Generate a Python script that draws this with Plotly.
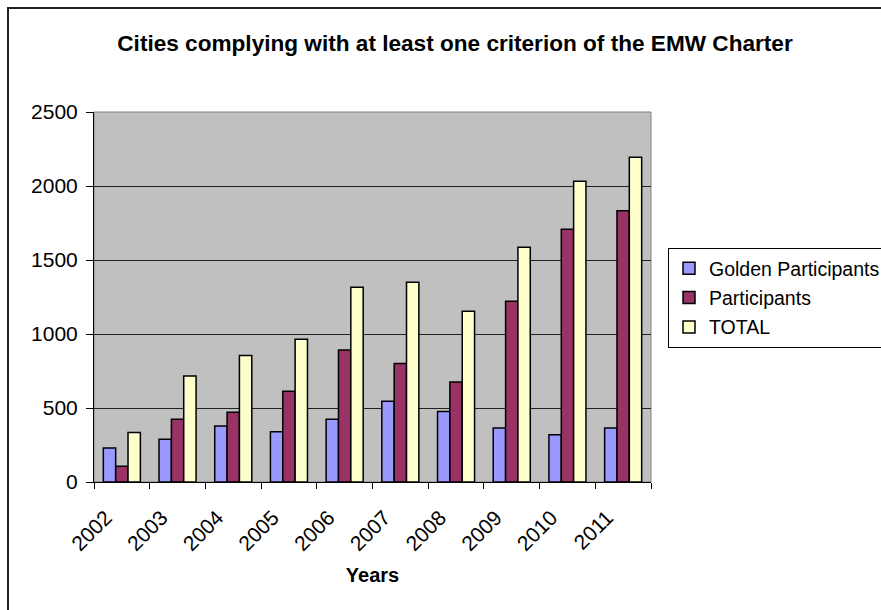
import plotly.graph_objects as go

years = ["2002", "2003", "2004", "2005", "2006", "2007", "2008", "2009", "2010", "2011"]
golden = [230, 289, 379, 340, 424, 545, 476, 365, 320, 365]
participants = [106, 424, 471, 613, 892, 800, 676, 1221, 1708, 1832]
total = [334, 717, 854, 965, 1316, 1350, 1154, 1586, 2032, 2195]

series = [
    ("Golden Participants", golden, "#9999FF"),
    ("Participants", participants, "#993366"),
    ("TOTAL", total, "#FFFFCC"),
]

FONT = "Liberation Sans, Arial, sans-serif"
W, H = 881, 610
L, R, T, B = 94, 651, 112, 482
pw, ph = R - L, B - T

def px_x(x):
    return (x - L) / pw

def px_y(y):
    return (B - y) / ph

fig = go.Figure()
for i, (name, vals, col) in enumerate(series):
    fig.add_trace(go.Bar(
        x=years, y=vals, name=name,
        marker=dict(color=col, line=dict(color="black", width=1.5)),
        legendgroup=f"g{i}",
    ))

fig.update_layout(
    width=W, height=H,
    margin=dict(l=L, r=W - R, t=T, b=H - B, pad=0, autoexpand=False),
    paper_bgcolor="white",
    plot_bgcolor="#C0C0C0",
    barmode="group",
    bargap=0.335,
    bargroupgap=0,
    font=dict(family=FONT, size=20, color="black"),
    title=dict(
        text="<b>Cities complying with at least one criterion of the EMW Charter</b>",
        x=455 / W, xref="container", xanchor="center",
        y=1 - 43 / H, yref="container", yanchor="middle",
        font=dict(family=FONT, size=22.6, color="black"),
    ),
    legend=dict(
        x=px_x(668), y=px_y(248), xanchor="left", yanchor="top",
        bgcolor="white", bordercolor="black", borderwidth=1,
        font=dict(family=FONT, size=19.5, color="black"),
        traceorder="grouped", tracegroupgap=1,
    ),
    xaxis=dict(
        type="category",
        tickangle=-45,
        ticks="outside", ticklen=6, tickcolor="black",
        tickson="boundaries",
        showline=True, linecolor="black", linewidth=1,
        showgrid=False,
        tickfont=dict(family=FONT, size=21),
        ticklabelstandoff=14,
        ticklabelshift=-16,
        title=dict(text="<b>Years</b>", font=dict(family=FONT, size=20), standoff=14),
    ),
    yaxis=dict(
        range=[0, 2500],
        tickvals=[0, 500, 1000, 1500, 2000, 2500],
        ticks="outside", ticklen=7, tickcolor="black",
        showline=True, linecolor="black", linewidth=1,
        showgrid=True, gridcolor="#222222", gridwidth=1,
        zeroline=False,
        tickfont=dict(family=FONT, size=21),
        ticklabelstandoff=4,
    ),
    shapes=[
        dict(type="rect", xref="paper", yref="paper",
             x0=0, x1=1, y0=0, y1=1,
             line=dict(color="#808080", width=1), layer="below"),
        dict(type="rect", xref="paper", yref="paper",
             x0=px_x(8), x1=px_x(900), y0=px_y(625), y1=px_y(8),
             line=dict(color="#222222", width=2), fillcolor="rgba(0,0,0,0)",
             layer="above"),
    ],
)

fig.write_html("out.html")
